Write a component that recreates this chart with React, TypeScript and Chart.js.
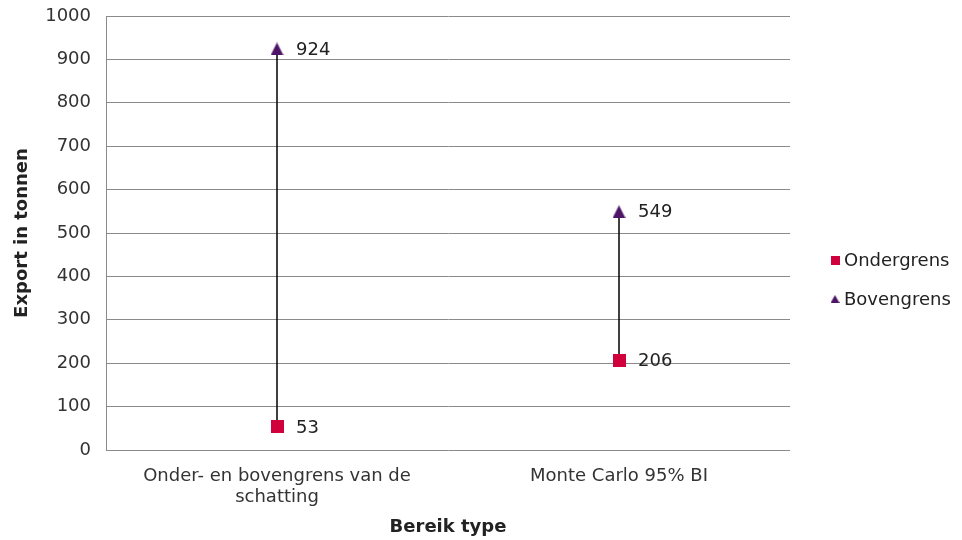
import { useEffect, useRef } from 'react';
import { Chart, registerables } from 'chart.js';

Chart.register(...registerables);

const categories: (string | string[])[] = [['Onder- en bovengrens van de', 'schatting'], 'Monte Carlo 95% BI'];
const ondergrens = [53, 206];
const bovengrens = [924, 549];
const seriesNames = ['Ondergrens', 'Bovengrens'];
const yMin = 0;
const yMax = 1000;
const yStep = 100;

const RED = '#D0003C';
const PURPLE = '#4E1566';
const FONT = "'DejaVu Sans', Verdana, sans-serif";

function makeSquare(size: number, color: string) {
  const c = document.createElement('canvas');
  c.width = size;
  c.height = size;
  const ctx = c.getContext('2d')!;
  ctx.fillStyle = color;
  ctx.fillRect(0, 0, size, size);
  return c;
}

function makeTriangle(w: number, h: number, color: string) {
  const c = document.createElement('canvas');
  c.width = w;
  c.height = h;
  const ctx = c.getContext('2d')!;
  ctx.fillStyle = color;
  ctx.beginPath();
  ctx.moveTo(w / 2, 0);
  ctx.lineTo(w, h);
  ctx.lineTo(0, h);
  ctx.closePath();
  ctx.fill();
  return c;
}

export default function App() {
  const ref = useRef<HTMLCanvasElement>(null);

  useEffect(() => {
    const sq = makeSquare(13, RED);
    const tri = makeTriangle(13, 13, PURPLE);
    const legendSq = makeSquare(9, RED);
    const legendTri = makeTriangle(9, 8, PURPLE);

    const hiLow = {
      id: 'hiLow',
      beforeDatasetsDraw(chart: any) {
        const ctx = chart.ctx;
        const m0 = chart.getDatasetMeta(0);
        const m1 = chart.getDatasetMeta(1);
        ctx.save();
        ctx.strokeStyle = '#000';
        ctx.lineWidth = 1.5;
        m0.data.forEach((p: any, i: number) => {
          const q = m1.data[i];
          if (!q) return;
          ctx.beginPath();
          ctx.moveTo(p.x, p.y);
          ctx.lineTo(q.x, q.y);
          ctx.stroke();
        });
        ctx.restore();
      },
    };

    const labels = {
      id: 'valueLabels',
      afterDatasetsDraw(chart: any) {
        const ctx = chart.ctx;
        ctx.save();
        ctx.font = `18px ${FONT}`;
        ctx.fillStyle = '#222';
        ctx.textAlign = 'left';
        ctx.textBaseline = 'middle';
        chart.data.datasets.forEach((ds: any, di: number) => {
          const meta = chart.getDatasetMeta(di);
          meta.data.forEach((el: any, i: number) => {
            ctx.fillText(String(ds.data[i]), el.x + 19, el.y + 1);
          });
        });
        ctx.restore();
      },
    };

    const legend = {
      id: 'customLegend',
      afterDraw(chart: any) {
        const ctx = chart.ctx;
        ctx.save();
        ctx.font = `18px ${FONT}`;
        ctx.fillStyle = '#222';
        ctx.textAlign = 'left';
        ctx.textBaseline = 'middle';
        const icons = [legendSq, legendTri];
        const x0 = chart.chartArea.right + 41;
        const ys = [260, 299];
        chart.data.datasets.forEach((ds: any, i: number) => {
          const ic = icons[i];
          ctx.drawImage(ic, x0 - ic.width / 2 + 4, ys[i] - ic.height / 2);
          ctx.fillText(ds.label, x0 + 13, ys[i] + 1);
        });
        ctx.restore();
      },
    };

    const chart = new Chart(ref.current!, {
      type: 'line',
      data: {
        labels: categories,
        datasets: [
          {
            label: seriesNames[0],
            data: ondergrens,
            showLine: false,
            pointStyle: sq as any,
            backgroundColor: RED,
            borderColor: RED,
          },
          {
            label: seriesNames[1],
            data: bovengrens,
            showLine: false,
            pointStyle: tri as any,
            backgroundColor: PURPLE,
            borderColor: PURPLE,
          },
        ],
      },
      options: {
        animation: false,
        responsive: true,
        maintainAspectRatio: false,
        layout: { padding: { top: 16, right: 172, left: 0, bottom: 0 } },
        plugins: {
          legend: { display: false },
          tooltip: { enabled: false },
        },
        scales: {
          x: {
            offset: true,
            grid: { display: false, drawTicks: false },
            border: { display: false },
            ticks: {
              font: { family: FONT, size: 18, lineHeight: 1.17 },
              color: '#333',
              padding: 16,
              maxRotation: 0,
              autoSkip: false,
            },
            title: {
              display: true,
              text: 'Bereik type',
              font: { family: FONT, size: 18, weight: 'bold', lineHeight: 1.2 },
              color: '#222',
              padding: { top: 0, bottom: 2 },
            },
            afterFit(scale: any) {
              scale.height = 90;
              scale.paddingLeft = 0;
              scale.paddingRight = 0;
            },
          },
          y: {
            min: yMin,
            max: yMax,
            ticks: {
              stepSize: yStep,
              font: { family: FONT, size: 18 },
              color: '#333',
              padding: 15,
              callback: (v: any) => String(v),
            },
            grid: { color: '#8a8a8a', lineWidth: 1, drawTicks: false },
            border: { display: true, color: '#8a8a8a', width: 1 },
            title: {
              display: true,
              text: 'Export in tonnen',
              font: { family: FONT, size: 18, weight: 'bold', lineHeight: 1.2 },
              color: '#222',
              padding: { top: 12, bottom: 0 },
            },
            afterFit(scale: any) {
              scale.width = 106;
              scale.paddingTop = 0;
              scale.paddingBottom = 0;
            },
          },
        },
      },
      plugins: [hiLow, labels, legend],
    });
    return () => chart.destroy();
  }, []);

  return (
    <div style={{ position: 'fixed', left: 0, top: 0, width: 962, height: 540, background: '#fff' }}>
      <canvas ref={ref} />
    </div>
  );
}
